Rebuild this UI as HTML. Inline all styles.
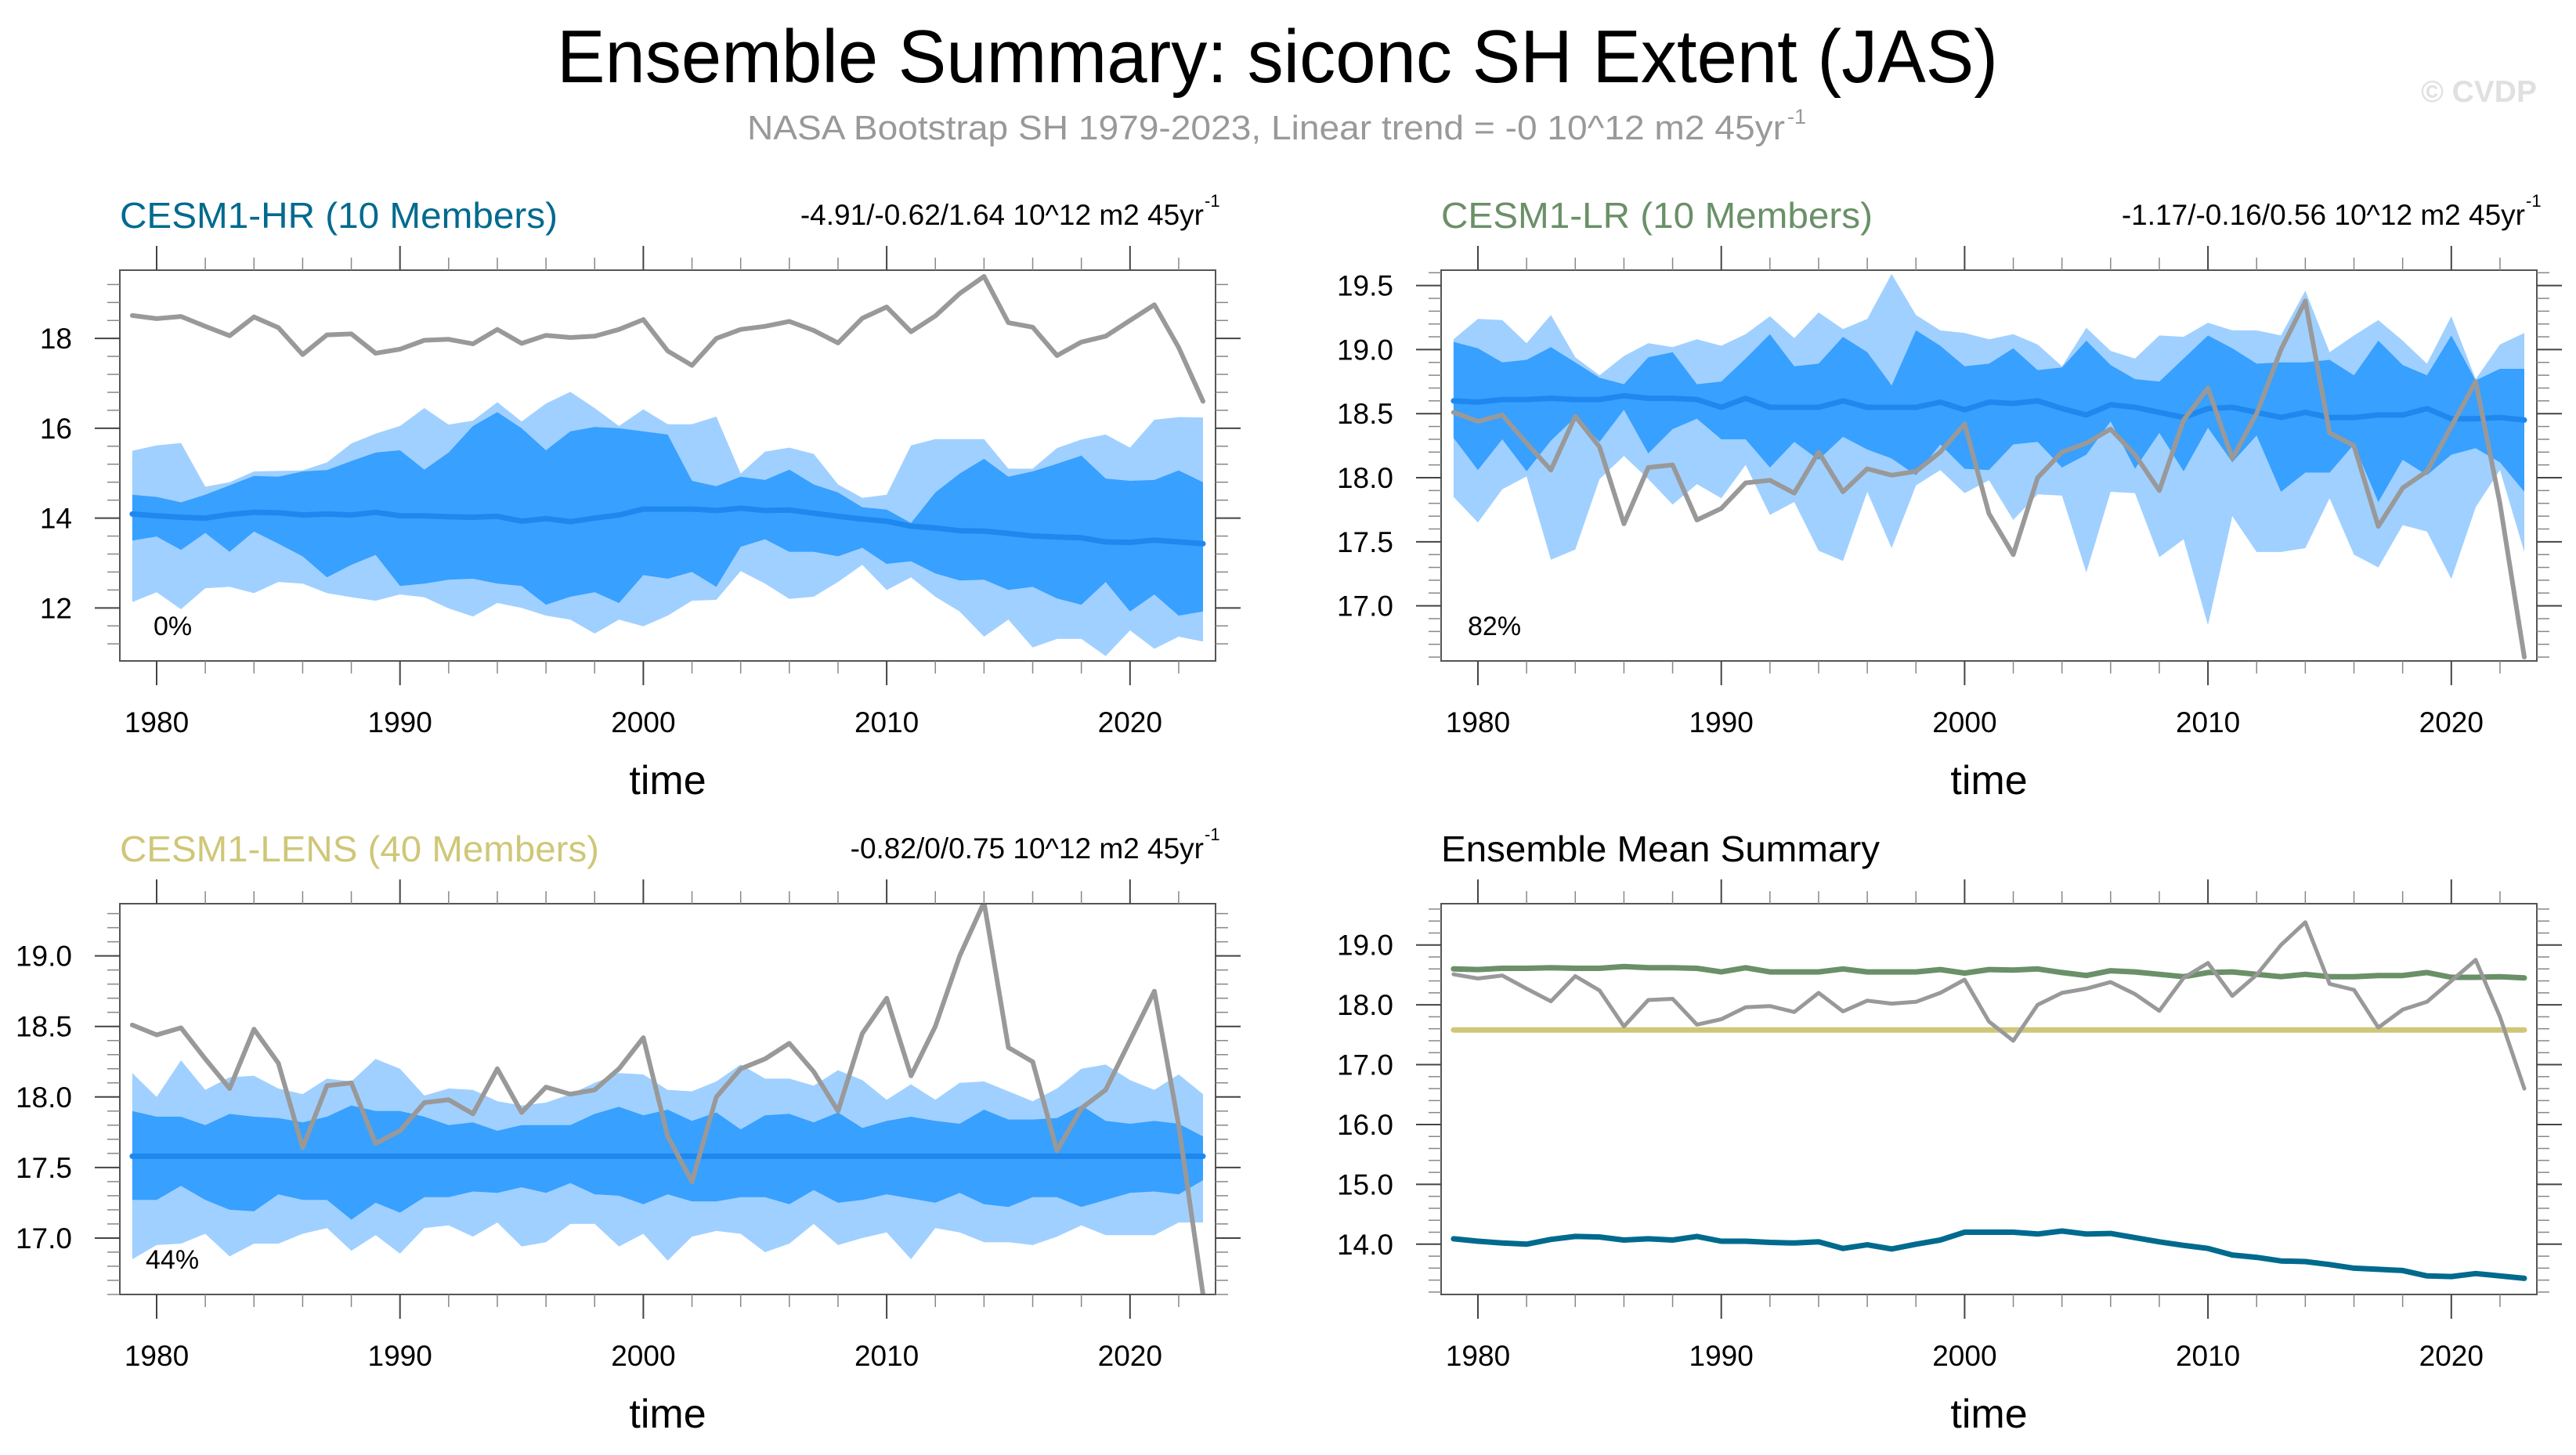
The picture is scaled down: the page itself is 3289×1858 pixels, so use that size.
<!DOCTYPE html>
<html><head><meta charset="utf-8"><style>
html,body{margin:0;padding:0;background:#fff;}
svg{display:block;}
text{font-family:"Liberation Sans",sans-serif;}
</style></head><body>
<svg id="s" xmlns="http://www.w3.org/2000/svg" width="3289" height="1858" viewBox="0 0 3289 1858">
<rect width="3289" height="1858" fill="#fff"/>
<text x="1631" y="105" font-size="96" text-anchor="middle" textLength="1840" lengthAdjust="spacingAndGlyphs">Ensemble Summary: siconc SH Extent (JAS)</text>
<text x="954" y="178" font-size="44" fill="#999" textLength="1325" lengthAdjust="spacingAndGlyphs">NASA Bootstrap SH 1979-2023, Linear trend = -0 10^12 m2 45yr</text>
<text x="2282" y="158" font-size="27" fill="#999">-1</text>
<text x="3239" y="130" font-size="39" font-weight="bold" fill="#e0e0e0" text-anchor="end">© CVDP</text>
<g id="g"></g>
</svg>
<script>
var NS="http://www.w3.org/2000/svg",G=document.getElementById("g");
function el(t,a,txt){var e=document.createElementNS(NS,t);for(var k in a)e.setAttribute(k,a[k]);if(txt!==undefined)e.textContent=txt;G.appendChild(e);return e;}
var obs=[18.51,18.44,18.49,18.27,18.06,18.48,18.24,17.64,18.08,18.10,17.67,17.76,17.96,17.98,17.88,18.20,17.89,18.07,18.02,18.05,18.2,18.42,17.72,17.4,18.0,18.2,18.27,18.38,18.18,17.9,18.45,18.7,18.15,18.5,19.0,19.38,18.35,18.25,17.62,17.92,18.05,18.4,18.75,17.8,16.6];
var hrM=[14.09,14.05,14.02,14.0,14.08,14.13,14.12,14.07,14.09,14.07,14.13,14.05,14.05,14.03,14.02,14.04,13.93,13.99,13.92,14.0,14.07,14.2,14.2,14.2,14.17,14.22,14.17,14.18,14.11,14.04,13.98,13.93,13.82,13.78,13.72,13.71,13.66,13.6,13.58,13.56,13.47,13.46,13.51,13.47,13.43];
var hrLU=[15.5,15.62,15.67,14.7,14.8,15.04,15.05,15.06,15.24,15.66,15.88,16.05,16.45,16.08,16.17,16.58,16.15,16.55,16.81,16.45,16.05,16.42,16.09,16.09,16.26,14.99,15.48,15.57,15.43,14.75,14.45,14.52,15.62,15.76,15.76,15.76,15.1,15.1,15.56,15.75,15.86,15.57,16.19,16.25,16.24];
var hrDU=[14.52,14.47,14.35,14.52,14.73,14.94,14.92,15.04,15.07,15.27,15.46,15.51,15.08,15.46,16.05,16.36,16.0,15.51,15.93,16.03,16.0,15.93,15.86,14.83,14.71,14.92,14.85,15.08,14.75,14.57,14.24,14.19,13.89,14.57,14.99,15.32,14.92,15.04,15.21,15.39,14.88,14.83,14.85,15.06,14.8];
var hrDL=[13.5,13.59,13.29,13.67,13.25,13.7,13.43,13.15,12.68,12.96,13.18,12.49,12.54,12.63,12.65,12.54,12.49,12.07,12.25,12.35,12.11,12.73,12.65,12.8,12.47,13.36,13.53,13.25,13.25,13.15,13.34,12.98,13.04,12.77,12.61,12.63,12.4,12.47,12.21,12.07,12.58,11.92,12.3,11.83,11.92];
var hrLL=[12.13,12.35,11.97,12.44,12.47,12.33,12.58,12.54,12.33,12.24,12.16,12.3,12.24,11.99,11.81,12.11,12.0,11.83,11.74,11.43,11.74,11.59,11.83,12.16,12.18,12.82,12.54,12.2,12.25,12.58,12.96,12.4,12.68,12.25,11.92,11.36,11.74,11.12,11.31,11.31,10.93,11.5,11.09,11.36,11.25];
var lrLU=[19.08,19.24,19.23,19.05,19.27,18.94,18.80,18.95,19.05,19.02,19.08,19.03,19.12,19.26,19.09,19.29,19.16,19.24,19.59,19.27,19.15,19.13,19.08,19.12,19.04,18.87,19.17,18.99,18.93,19.11,19.10,19.21,19.15,19.15,19.11,19.46,18.98,19.11,19.23,19.07,18.89,19.26,18.77,19.04,19.13];
var lrDU=[19.06,19.01,18.90,18.92,19.02,18.90,18.78,18.73,18.94,18.98,18.73,18.75,18.93,19.12,18.87,18.89,19.10,18.98,18.72,19.15,19.03,18.87,18.89,19.01,18.84,18.86,19.07,18.88,18.77,18.75,18.93,19.11,19.01,18.89,18.90,18.90,18.92,18.80,19.07,18.88,18.80,19.11,18.76,18.85,18.85];
var lrM=[18.60,18.59,18.61,18.61,18.62,18.61,18.61,18.64,18.62,18.62,18.61,18.55,18.62,18.55,18.55,18.55,18.60,18.55,18.55,18.55,18.59,18.53,18.59,18.58,18.60,18.54,18.49,18.57,18.55,18.51,18.47,18.54,18.55,18.51,18.47,18.51,18.47,18.47,18.49,18.49,18.54,18.46,18.46,18.47,18.45];
var lrDL=[18.31,18.06,18.30,18.05,18.29,18.47,18.28,18.53,18.19,18.38,18.46,18.30,18.30,18.08,18.28,18.14,18.32,18.22,18.15,18.02,18.26,18.07,18.06,18.26,18.28,18.08,18.18,18.44,18.07,18.35,18.05,18.39,18.12,18.33,17.89,18.04,18.04,18.26,17.81,18.14,18.02,18.18,18.23,18.12,17.89];
var lrLL=[17.85,17.65,17.91,18.01,17.36,17.44,17.99,18.17,17.99,17.79,17.95,17.84,18.10,17.71,17.81,17.43,17.35,17.89,17.45,17.94,18.06,17.88,17.98,17.67,17.87,17.86,17.26,17.89,17.88,17.38,17.52,16.85,17.70,17.42,17.42,17.45,17.84,17.40,17.30,17.63,17.58,17.21,17.77,18.06,17.42];
var leLU=[18.17,18.0,18.26,18.05,18.14,18.15,18.06,18.02,18.13,18.11,18.27,18.20,18.01,18.06,18.05,17.97,17.94,17.96,18.02,18.10,18.17,18.16,18.05,18.04,18.11,18.23,18.13,18.13,18.08,18.19,18.12,17.98,18.09,17.98,18.10,18.11,18.04,17.97,18.06,18.20,18.23,18.12,18.05,18.16,18.02];
var leDU=[17.90,17.86,17.86,17.80,17.88,17.86,17.85,17.82,17.86,17.94,17.90,17.90,17.86,17.80,17.82,17.76,17.80,17.80,17.80,17.88,17.93,17.87,17.91,17.83,17.89,17.77,17.87,17.88,17.82,17.89,17.78,17.83,17.86,17.83,17.81,17.91,17.84,17.84,17.85,17.94,17.83,17.81,17.83,17.81,17.72];
var leDL=[17.27,17.27,17.37,17.27,17.20,17.19,17.31,17.27,17.27,17.13,17.25,17.18,17.29,17.29,17.33,17.32,17.36,17.32,17.39,17.31,17.30,17.24,17.31,17.26,17.26,17.29,17.29,17.24,17.34,17.25,17.27,17.31,17.28,17.25,17.32,17.24,17.22,17.29,17.29,17.22,17.27,17.32,17.33,17.31,17.41];
var leLL=[16.85,16.95,16.96,17.03,16.87,16.96,16.96,17.03,17.07,16.91,17.02,16.89,17.07,17.09,17.01,17.11,16.94,16.97,17.10,17.10,16.94,17.03,16.84,17.01,17.05,17.03,16.90,16.96,17.10,16.95,17.00,17.04,16.85,17.07,17.04,16.97,16.97,16.95,17.01,17.09,17.02,17.02,17.02,17.11,17.11];
var leM=[];for(var i=0;i<45;i++)leM.push(17.58);

function panel(c){
 var X=function(yr){return c.x0+47+(yr-1980)*31.07;};
 var Y=function(v){return c.y0+(c.vmax-v)/(c.vmax-c.vmin)*(c.y1-c.y0);};
 G=document.createElementNS(NS,"g");document.getElementById("g").appendChild(G);
 var cp="cp"+c.x0+"_"+c.y0;
 var d=el("clipPath",{id:cp});var r=document.createElementNS(NS,"rect");r.setAttribute("x",c.x0);r.setAttribute("y",c.y0);r.setAttribute("width",c.x1-c.x0);r.setAttribute("height",c.y1-c.y0);d.appendChild(r);
 var inner=el("g",{"clip-path":"url(#"+cp+")"});
 var saveG=G;G=inner;
 function band(up,lo,col){var p="";for(var i=0;i<45;i++)p+=(i?"L":"M")+X(1979+i).toFixed(1)+","+Y(up[i]).toFixed(1);for(var i=44;i>=0;i--)p+="L"+X(1979+i).toFixed(1)+","+Y(lo[i]).toFixed(1);el("path",{d:p+"Z",fill:col});}
 function line(a,col,w){var p="";for(var i=0;i<45;i++)p+=(i?"L":"M")+X(1979+i).toFixed(1)+","+Y(a[i]).toFixed(1);el("path",{d:p,fill:"none",stroke:col,"stroke-width":w,"stroke-linejoin":"round","stroke-linecap":"round"});}
 if(c.bands){band(c.bands[0],c.bands[3],"#a0d0ff");band(c.bands[1],c.bands[2],"#38a0ff");line(c.mean,"#1e88ee",7);line(obs,"#999",6);}
 if(c.summary){line(lrM,"#6a9068",7);line(leM,"#cfc778",7);line(hrM,"#006a8e",7);line(obs,"#999",5);}
 G=saveG;
 el("rect",{x:c.x0,y:c.y0,width:c.x1-c.x0,height:c.y1-c.y0,fill:"none",stroke:"#555","stroke-width":2});
 for(var yr=1980;yr<=2022;yr+=2){var mj=(yr%10==0),L=mj?31:16,x=X(yr);
  el("line",{x1:x,y1:c.y0,x2:x,y2:c.y0-L,stroke:mj?"#444":"#888","stroke-width":mj?2:1.5});
  el("line",{x1:x,y1:c.y1,x2:x,y2:c.y1+L,stroke:mj?"#444":"#888","stroke-width":mj?2:1.5});
  if(mj)el("text",{x:x,y:c.y1+91,"font-size":37,"text-anchor":"middle"},""+yr);}
 var k0=Math.ceil(c.vmin/c.mn-1e-6),k1=Math.floor(c.vmax/c.mn+1e-6);
 for(var k=k0;k<=k1;k++){var v=k*c.mn,y=Y(v),mj=(k%5==0),L=mj?32:16;
  el("line",{x1:c.x0,y1:y,x2:c.x0-L,y2:y,stroke:mj?"#444":"#888","stroke-width":mj?2:1.5});
  el("line",{x1:c.x1,y1:y,x2:c.x1+L,y2:y,stroke:mj?"#444":"#888","stroke-width":mj?2:1.5});
  if(mj)el("text",{x:c.x0-61,y:y+13,"font-size":37,"text-anchor":"end"},c.dec?v.toFixed(1):Math.round(v)+"");}
 el("text",{x:(c.x0+c.x1)/2,y:c.y1+170,"font-size":52,"text-anchor":"middle"},"time");
 el("text",{x:c.x0,y:c.y0-54,"font-size":46,fill:c.tc,textLength:c.tw,lengthAdjust:"spacingAndGlyphs"},c.title);
 if(c.trend){el("text",{x:c.x1-15,y:c.y0-58,"font-size":37,"text-anchor":"end"},c.trend);el("text",{x:c.x1-14,y:c.y0-81,"font-size":22},"-1");}
 if(c.pct)el("text",{x:c.x0+c.px,y:c.y1-33,"font-size":34},c.pct);
}
panel({x0:153,x1:1552,y0:345,y1:844,vmin:10.82,vmax:19.52,mn:0.4,dec:false,bands:[hrLU,hrDU,hrDL,hrLL],mean:hrM,title:"CESM1-HR (10 Members)",tc:"#006a8e",tw:559,trend:"-4.91/-0.62/1.64 10^12 m2 45yr",pct:"0%",px:43});
panel({x0:1840,x1:3239,y0:345,y1:844,vmin:16.57,vmax:19.62,mn:0.1,dec:true,bands:[lrLU,lrDU,lrDL,lrLL],mean:lrM,title:"CESM1-LR (10 Members)",tc:"#6a9068",tw:551,trend:"-1.17/-0.16/0.56 10^12 m2 45yr",pct:"82%",px:34});
panel({x0:153,x1:1552,y0:1154,y1:1653,vmin:16.6,vmax:19.37,mn:0.1,dec:true,bands:[leLU,leDU,leDL,leLL],mean:leM,title:"CESM1-LENS (40 Members)",tc:"#cfc778",tw:612,trend:"-0.82/0/0.75 10^12 m2 45yr",pct:"44%",px:33});
panel({x0:1840,x1:3239,y0:1154,y1:1653,vmin:13.16,vmax:19.69,mn:0.2,dec:true,summary:true,title:"Ensemble Mean Summary",tc:"#000",tw:560});
</script>
</body></html>
